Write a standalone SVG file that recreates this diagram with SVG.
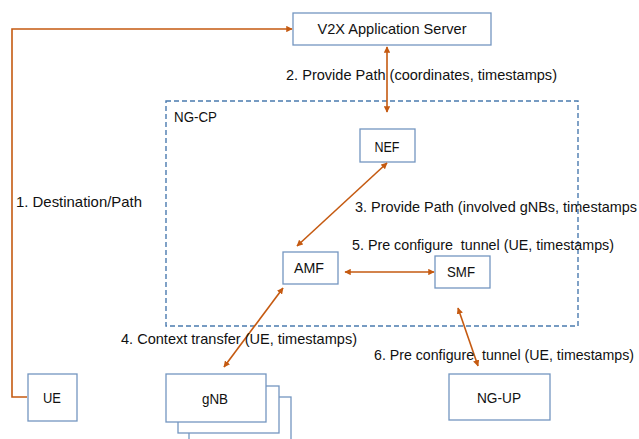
<svg xmlns="http://www.w3.org/2000/svg" width="639" height="439" viewBox="0 0 639 439">
<defs>
<marker id="ah" viewBox="0 0 10 10" refX="9" refY="5" markerWidth="4" markerHeight="4" orient="auto-start-reverse" markerUnits="strokeWidth">
<path d="M0,0 L10,5 L0,10 Z" fill="#C55A11"/>
</marker>
<style>
.box{fill:#ffffff;stroke:#7396C0;stroke-width:1.3}
.t{font-family:"Liberation Sans",Arial,sans-serif;font-size:14.5px;fill:#111111}
.c{text-anchor:middle}
.ln{fill:none;stroke:#C55A11;stroke-width:1.6}
</style>
</defs>
<rect width="639" height="439" fill="#ffffff"/>
<g id="ngcp">
<rect x="166" y="101" width="412" height="225" fill="none" stroke="#4A7BAF" stroke-width="1.4" stroke-dasharray="5,3"/>
<text class="t" x="174" y="122" textLength="43" lengthAdjust="spacingAndGlyphs">NG-CP</text>
</g>
<g id="v2x">
<rect class="box" x="293" y="13" width="198" height="32"/>
<text class="t c" x="392" y="34" textLength="149" lengthAdjust="spacingAndGlyphs">V2X Application Server</text>
</g>
<g id="nef">
<rect class="box" x="360" y="129" width="55" height="33"/>
<text class="t c" x="387" y="152" textLength="25" lengthAdjust="spacingAndGlyphs">NEF</text>
</g>
<g id="amf">
<rect class="box" x="283" y="252" width="55" height="32"/>
<text class="t c" x="309" y="273" textLength="30" lengthAdjust="spacingAndGlyphs">AMF</text>
</g>
<g id="smf">
<rect class="box" x="435" y="256" width="55" height="32"/>
<text class="t c" x="461" y="277" textLength="28" lengthAdjust="spacingAndGlyphs">SMF</text>
</g>
<g id="ue">
<rect class="box" x="28" y="374" width="49" height="47"/>
<text class="t c" x="52" y="403" textLength="18" lengthAdjust="spacingAndGlyphs">UE</text>
</g>
<g id="gnb">
<rect class="box" x="189" y="397" width="102" height="50"/>
<rect class="box" x="178" y="386" width="101" height="47"/>
<rect class="box" x="166" y="374" width="100" height="48"/>
<text class="t c" x="215" y="404" textLength="26" lengthAdjust="spacingAndGlyphs">gNB</text>
</g>
<g id="ngup">
<rect class="box" x="449" y="374" width="101" height="46"/>
<text class="t c" x="499" y="403" textLength="44" lengthAdjust="spacingAndGlyphs">NG-UP</text>
</g>
<g id="connectors">
<polyline class="ln" points="27,397 12,397 12,29 292,29" marker-end="url(#ah)"/>
<path class="ln" d="M387,47 L387,112" marker-start="url(#ah)" marker-end="url(#ah)"/>
<path class="ln" d="M387,163 L297,246" marker-start="url(#ah)" marker-end="url(#ah)"/>
<path class="ln" d="M345,272 L434,272" marker-start="url(#ah)" marker-end="url(#ah)"/>
<path class="ln" d="M283,288 L224,367" marker-start="url(#ah)" marker-end="url(#ah)"/>
<path class="ln" d="M458,308 L478,366" marker-start="url(#ah)" marker-end="url(#ah)"/>
</g>
<g id="labels">
<text class="t" x="16" y="207" textLength="126" lengthAdjust="spacingAndGlyphs">1. Destination/Path</text>
<text class="t" x="286" y="80" textLength="271" lengthAdjust="spacingAndGlyphs">2. Provide Path (coordinates, timestamps)</text>
<text class="t" x="355" y="212" textLength="282" lengthAdjust="spacingAndGlyphs">3. Provide Path (involved gNBs, timestamps</text>
<text class="t" x="121" y="344" textLength="236" lengthAdjust="spacingAndGlyphs">4. Context transfer (UE, timestamps)</text>
<text class="t" x="352" y="250" textLength="262" lengthAdjust="spacingAndGlyphs" xml:space="preserve">5. Pre configure  tunnel (UE, timestamps)</text>
<text class="t" x="374" y="360" textLength="260" lengthAdjust="spacingAndGlyphs" xml:space="preserve">6. Pre configure  tunnel (UE, timestamps)</text>
</g>
</svg>
